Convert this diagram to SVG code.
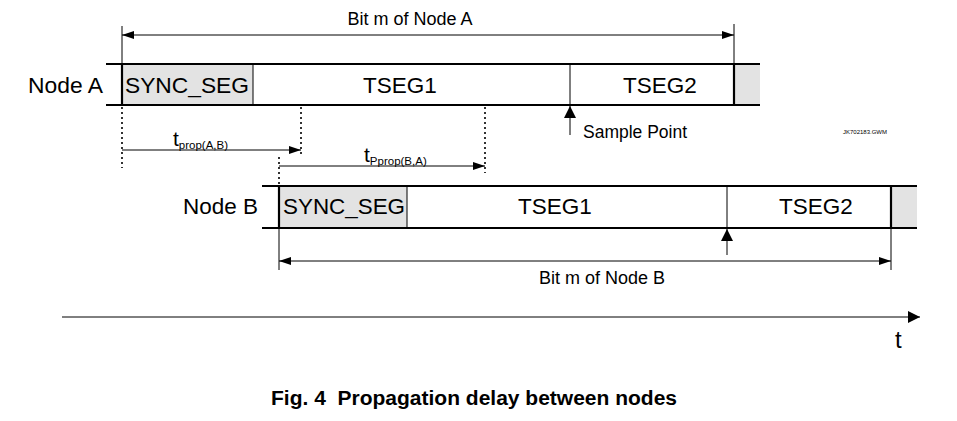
<svg xmlns="http://www.w3.org/2000/svg" width="957" height="421" viewBox="0 0 957 421">
<style>
text{font-family:"Liberation Sans",Arial,sans-serif;fill:#000}
.lbl{font-size:22.5px}
.seg{font-size:22.5px;text-anchor:middle}
.dim{font-size:18px;text-anchor:middle}
.bar{stroke:#000;stroke-width:2.2;fill:none}
.thin{stroke:#000;stroke-width:1;fill:none}
.dot{stroke:#000;stroke-width:1.6;stroke-dasharray:2 3;fill:none}
.gray{fill:#e3e3e3}
</style>
<defs>
<marker id="ah" markerWidth="12" markerHeight="8" refX="12" refY="4" orient="auto-start-reverse" markerUnits="userSpaceOnUse">
<path d="M0,0 L12,4 L0,8 Z" fill="#000"/>
</marker>
<marker id="ahb" markerWidth="12" markerHeight="12" refX="12" refY="6" orient="auto" markerUnits="userSpaceOnUse">
<path d="M0,0 L12,6 L0,12 Z" fill="#000"/>
</marker>
</defs>
<rect width="957" height="421" fill="#fff"/>

<g id="nodeA">
<text class="lbl" x="28" y="93" textLength="75" lengthAdjust="spacingAndGlyphs">Node A</text>
<rect class="gray" x="122" y="64" width="131" height="41"/>
<rect class="gray" x="734" y="64" width="26" height="41"/>
<line class="bar" x1="106" y1="64" x2="760" y2="64"/>
<line class="bar" x1="106" y1="105" x2="760" y2="105"/>
<line class="bar" x1="122" y1="64" x2="122" y2="105"/>
<line class="thin" x1="253" y1="64" x2="253" y2="105" stroke-width="1.5"/>
<line class="thin" x1="570" y1="64" x2="570" y2="105"/>
<line class="bar" x1="734" y1="64" x2="734" y2="105"/>
<text class="seg" x="187" y="93" textLength="124" lengthAdjust="spacingAndGlyphs">SYNC_SEG</text>
<text class="seg" x="400" y="93">TSEG1</text>
<text class="seg" x="660" y="93">TSEG2</text>
</g>

<g id="nodeB">
<text class="lbl" x="183" y="214" textLength="75" lengthAdjust="spacingAndGlyphs">Node B</text>
<rect class="gray" x="279" y="186" width="128" height="42"/>
<rect class="gray" x="891" y="186" width="26" height="42"/>
<line class="bar" x1="262" y1="186" x2="917" y2="186"/>
<line class="bar" x1="262" y1="228" x2="917" y2="228"/>
<line class="bar" x1="279" y1="186" x2="279" y2="228"/>
<line class="thin" x1="407" y1="186" x2="407" y2="228" stroke-width="1.5"/>
<line class="thin" x1="727" y1="186" x2="727" y2="228"/>
<line class="bar" x1="891" y1="186" x2="891" y2="228"/>
<text class="seg" x="344" y="214" textLength="122" lengthAdjust="spacingAndGlyphs">SYNC_SEG</text>
<text class="seg" x="555" y="214">TSEG1</text>
<text class="seg" x="816" y="214">TSEG2</text>
</g>

<g id="connectors">
<line class="thin" x1="122" y1="26" x2="122" y2="64"/>
<line class="thin" x1="734" y1="24" x2="734" y2="64"/>
<line class="thin" x1="122" y1="35" x2="734" y2="35" marker-start="url(#ah)" marker-end="url(#ah)"/>
<line class="dot" x1="122" y1="107" x2="122" y2="168"/>
<line class="dot" x1="301" y1="107" x2="301" y2="156"/>
<line class="thin" x1="122" y1="150" x2="301" y2="150" marker-end="url(#ah)"/>
<line class="dot" x1="279" y1="157" x2="279" y2="185"/>
<line class="dot" x1="485" y1="107" x2="485" y2="173"/>
<line class="thin" x1="279" y1="166" x2="485" y2="166" marker-end="url(#ah)"/>
<line class="thin" x1="570" y1="135" x2="570" y2="106" stroke-width="2" marker-end="url(#ahb)"/>
<line class="thin" x1="727" y1="255" x2="727" y2="229" stroke-width="2" marker-end="url(#ahb)"/>
<line class="thin" x1="279" y1="228" x2="279" y2="270"/>
<line class="thin" x1="891" y1="228" x2="891" y2="270"/>
<line class="thin" x1="279" y1="261" x2="891" y2="261" marker-start="url(#ah)" marker-end="url(#ah)"/>
<line class="thin" x1="62" y1="317" x2="920" y2="317" stroke-width="1.3" marker-end="url(#ahb)"/>
</g>

<g id="labels">
<text class="dim" x="410" y="25">Bit m of Node A</text>
<text x="173" y="146" font-size="21">t<tspan font-size="11.5" dy="3">prop(A,B)</tspan></text>
<text x="364" y="162" font-size="21">t<tspan font-size="11.5" dy="3">Pprop(B,A)</tspan></text>
<text x="583" y="138" font-size="17.5">Sample Point</text>
<text x="843" y="134" font-size="6">JK702183.GWM</text>
<text class="dim" x="602" y="284">Bit m of Node B</text>
<text x="895" y="348" font-size="24">t</text>
<text x="271" y="405" font-size="19.5" font-weight="bold" textLength="406" lengthAdjust="spacingAndGlyphs" xml:space="preserve">Fig. 4  Propagation delay between nodes</text>
</g>
</svg>
